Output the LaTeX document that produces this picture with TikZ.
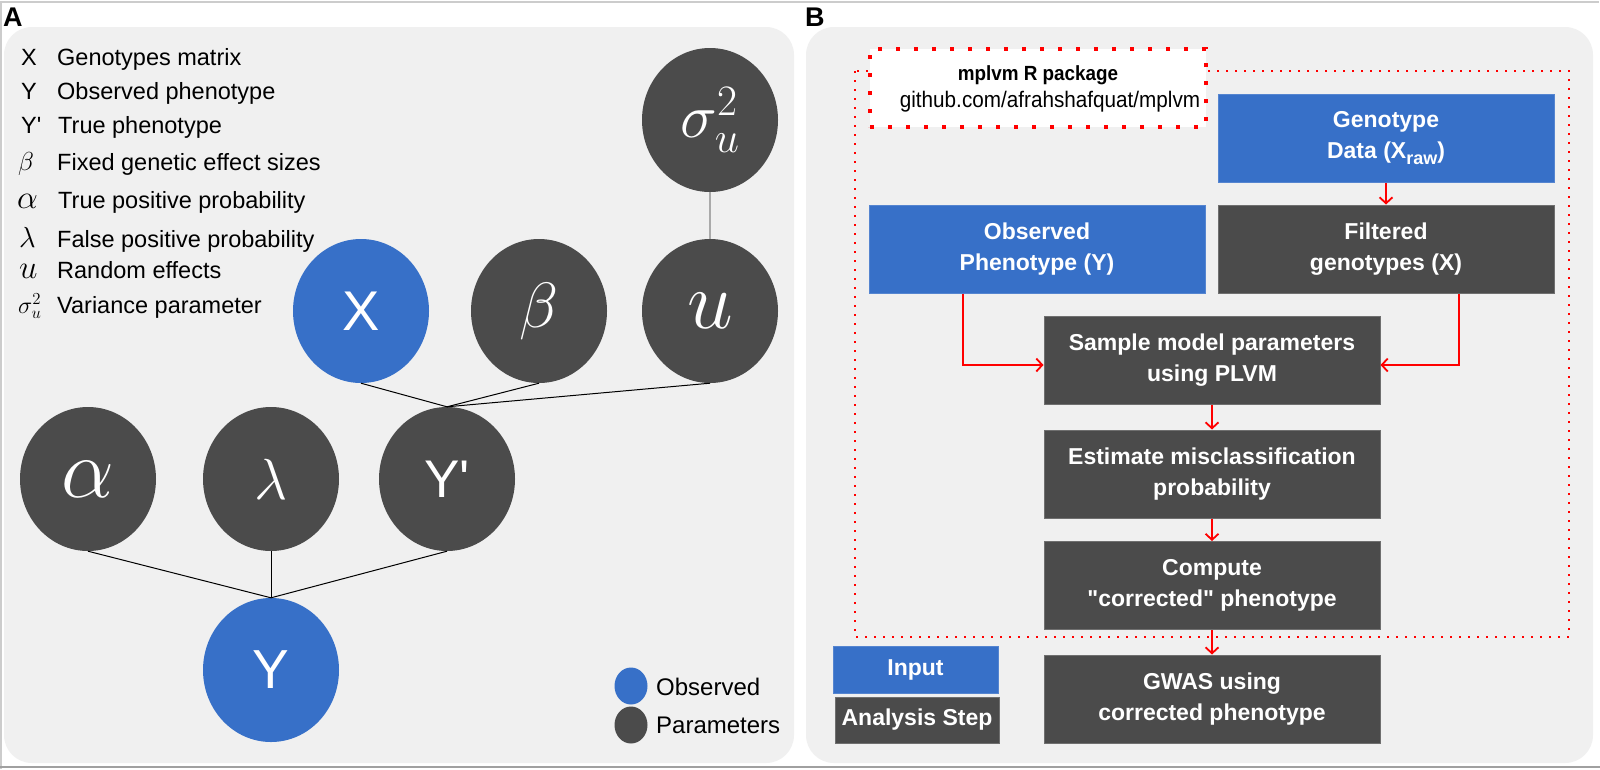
\RequirePackage{fix-cm}
\documentclass[tikz,border=0pt]{standalone}
\usepackage{fontspec}
\setmainfont{Liberation Sans}
\newfontfamily\narrowfont[FakeStretch=0.92]{Liberation Sans}
\usetikzlibrary{shapes.geometric,arrows.meta}
\definecolor{nodeblue}{HTML}{3770C8}
\definecolor{nodedark}{HTML}{4B4B4B}
\definecolor{panelbg}{HTML}{F0F0F0}
\definecolor{framegray}{HTML}{CCCCCC}
\definecolor{framedark}{HTML}{A0A0A0}
\definecolor{linkgray}{HTML}{AAAAAA}
\begin{document}
\begin{tikzpicture}[x=1pt,y=-1pt,
  pnode/.style={ellipse, minimum width=136pt, minimum height=144pt, inner sep=0pt, text=white},
  parnode/.style={pnode, fill=nodedark},
  obsnode/.style={pnode, fill=nodeblue},
  link/.style={black, line width=1pt},
  legtxt/.style={anchor=base west, inner sep=0pt, font=\fontsize{23.5}{28}\selectfont},
  legsym/.style={anchor=base west, inner sep=0pt},
  stepbox/.style={rectangle, minimum width=336pt, minimum height=88pt, inner sep=0pt, align=center, text=white, line width=1pt, font=\fontsize{23}{31}\selectfont\bfseries},
  inbox/.style={stepbox, fill=nodeblue, draw=nodeblue!85!white},
  anbox/.style={stepbox, fill=nodedark, draw=nodedark!80!white},
  flow/.style={red, line width=1.8pt, -{Straight Barb[length=6pt,width=13pt]}},
  keydot/.style={ellipse, minimum width=33pt, minimum height=37pt, inner sep=0pt}
]
\useasboundingbox (0,0) rectangle (1600,769);
\fill[white] (0,0) rectangle (1600,769);
% frame
\draw[framegray, line width=1.5pt] (1,769) -- (1,2) -- (1599,2);
\draw[framedark, line width=2pt] (0,767) -- (1600,767);
% panels
\fill[panelbg, rounded corners=28pt] (4,27) rectangle (794,763);
\fill[panelbg, rounded corners=28pt] (806,27) rectangle (1593,763);
\node[anchor=base west, inner sep=0pt, font=\fontsize{27}{27}\selectfont\bfseries] (labA) at (3,26) {A};
\node[anchor=base west, inner sep=0pt, font=\fontsize{27}{27}\selectfont\bfseries] (labB) at (805,26) {B};

% ---------- Panel A legend ----------
\node[legsym, font=\fontsize{23.5}{28}\selectfont] (s1) at (21,65) {X};
\node[legtxt] (t1) at (57,65) {Genotypes matrix};
\node[legsym, font=\fontsize{23.5}{28}\selectfont] (s2) at (21,99) {Y};
\node[legtxt] (t2) at (57,99) {Observed phenotype};
\node[legsym, font=\fontsize{23.5}{28}\selectfont] (s3) at (21,133) {Y\textquotesingle};
\node[legtxt] (t3) at (58,133) {True phenotype};
\node[legsym] (s4) at (18,170) {\fontsize{26}{26}\selectfont$\beta$};
\node[legtxt] (t4) at (57,170) {Fixed genetic effect sizes};
\node[legsym] (s5) at (17,208) {\fontsize{33}{33}\selectfont$\alpha$};
\node[legtxt] (t5) at (58,208) {True positive probability};
\node[legsym] (s6) at (19,247) {\fontsize{29}{29}\selectfont$\lambda$};
\node[legtxt] (t6) at (57,247) {False positive probability};
\node[legsym] (s7) at (19,278) {\fontsize{33}{33}\selectfont$u$};
\node[legtxt] (t7) at (57,278) {Random effects};
\node[legsym] (s8) at (18,313) {\fontsize{24}{24}\selectfont$\sigma_u^2$};
\node[legtxt] (t8) at (57,313) {Variance parameter};

% ---------- Panel A graph ----------
\node[parnode] (nSig) at (710,120) {\fontsize{62}{62}\selectfont$\sigma_u^2$};
\node[parnode] (nU) at (710,311) {\fontsize{82}{82}\selectfont$u$};
\node[parnode] (nBeta) at (539,311) {\fontsize{64}{64}\selectfont$\beta$};
\node[obsnode] (nX) at (361,311) {\fontsize{56}{56}\selectfont X};
\node[parnode] (nAlpha) at (88,479) {\fontsize{84}{84}\selectfont$\alpha$};
\node[parnode] (nLambda) at (271,479) {\fontsize{58}{58}\selectfont$\lambda$};
\node[parnode] (nYp) at (447,479) {\fontsize{53}{53}\selectfont Y\textquotesingle};
\node[obsnode] (nY) at (271,670) {\fontsize{55}{55}\selectfont Y};

\draw[linkgray, line width=1.5pt] (nSig.south) -- (nU.north);
\draw[link] (nX.south) -- (nYp.north);
\draw[link] (nBeta.south) -- (nYp.north);
\draw[link] (nU.south) -- (nYp.north);
\draw[link] (nAlpha.south) -- (nY.north);
\draw[link] (nLambda.south) -- (nY.north);
\draw[link] (nYp.south) -- (nY.north);

\node[keydot, fill=nodeblue] (kObs) at (631,686) {};
\node[keydot, fill=nodedark] (kPar) at (631,725) {};
\node[anchor=base west, inner sep=0pt, font=\fontsize{24}{28}\selectfont] (kObsT) at (656,695) {Observed};
\node[anchor=base west, inner sep=0pt, font=\fontsize{24}{28}\selectfont] (kParT) at (656,733) {Parameters};

% ---------- Panel B ----------
\draw[red, line width=2.2pt, dash pattern=on 2pt off 7pt] (855,71) rectangle (1569,637);
\node[draw=red, fill=white, line width=4pt, dash pattern=on 4pt off 14pt, minimum width=336pt, minimum height=78pt, inner sep=0pt] (pkg) at (1038,88) {};
\node[anchor=base, inner sep=0pt] (pkgname) at (1038,80) {\fontsize{20.5}{24}\narrowfont\bfseries mplvm R package};
\node[anchor=base, inner sep=0pt] (pkgurl) at (1050,107) {\fontsize{22.5}{26}\narrowfont github.com/afrahshafquat/mplvm};

\node[inbox] (geno) at (1386,138.5) {Genotype\\Data (X\raisebox{-6pt}{\fontsize{18}{18}\selectfont raw})};
\node[anbox] (filt) at (1386,249) {Filtered\\genotypes (X)};
\node[inbox] (obs) at (1037,249) {Observed\\Phenotype (Y)};
\node[anbox] (samp) at (1212,360) {Sample model parameters\\using PLVM};
\node[anbox] (est) at (1212,474) {Estimate misclassification\\probability};
\node[anbox] (comp) at (1212,585.5) {Compute\\\textquotedbl corrected\textquotedbl{} phenotype};
\node[anbox] (gwas) at (1212,699) {GWAS using\\corrected phenotype};
\node[inbox, minimum width=165pt, minimum height=47pt] (kin) at (915.5,669.5) {Input};
\node[anbox, minimum width=164pt, minimum height=46pt] (kan) at (917,720) {Analysis Step};

\draw[flow] (geno) -- (filt);
\draw[flow] (samp) -- (est);
\draw[flow] (est) -- (comp);
\draw[flow] (comp) -- (gwas);
\draw[flow] ([xshift=-74pt]obs.south) |- ([yshift=-5pt]samp.west);
\draw[flow] ([xshift=73pt]filt.south) |- ([yshift=-5pt]samp.east);
\end{tikzpicture}
\end{document}
